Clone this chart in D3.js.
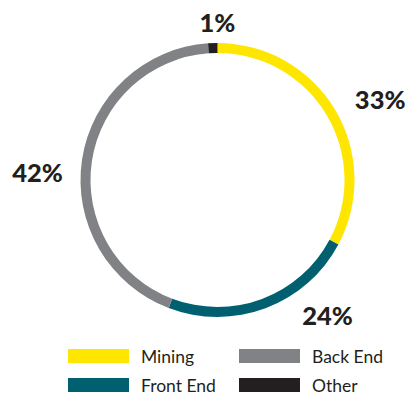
<!DOCTYPE html>
<html>
<head>
<meta charset="utf-8">
<script src="https://cdn.jsdelivr.net/npm/d3@7"></script>
<style>
  body { margin: 0; background: #fff; }
  text { font-family: Lato, "Open Sans", sans-serif; fill: #231f20; }
</style>
</head>
<body>
<div id="chart"></div>
<script>
// data
const categories = ["Mining", "Front End", "Back End", "Other"]
const values = [32.8, 23, 43.1, 1.1]
const labels = ["33%", "24%", "42%", "1%"]
const colors = ["#ffe600", "#00606f", "#808285", "#231f20"]

// label placement (degrees clockwise from 12 o'clock, distance from centre)
const labelAngle = [64, 141, 272, 0]
const labelRadius = [181, 175, 180, 157]

const W = 407, H = 396
const cx = 217.5, cy = 180
const outerR = 137, innerR = 127

const svg = d3.select('#chart').append('svg')
    .attr('width', W)
    .attr('height', H)

const g = svg.append('g')
    .attr('transform', `translate(${cx},${cy})`)

const pie = d3.pie().sort(null).value(d => d)
const arc = d3.arc().innerRadius(innerR).outerRadius(outerR)

g.selectAll('path')
    .data(pie(values))
    .join('path')
    .attr('d', arc)
    .attr('fill', (d, i) => colors[i])

// percentage labels
g.selectAll('text.pct')
    .data(labels)
    .join('text')
    .attr('class', 'pct')
    .attr('text-anchor', 'middle')
    .attr('x', (d, i) => labelRadius[i] * Math.sin(labelAngle[i] * Math.PI / 180))
    .attr('y', (d, i) => -labelRadius[i] * Math.cos(labelAngle[i] * Math.PI / 180) + 8.5)
    .style('font-size', '25.5px')
    .style('font-weight', 900)
    .text(d => d)

// legend: Mining, Front End in first column; Back End, Other in second
const legend = svg.append('g')
    .attr('transform', 'translate(68,349)')

const item = legend.selectAll('g')
    .data(categories)
    .join('g')
    .attr('transform', (d, i) => `translate(${Math.floor(i / 2) * 171},${(i % 2) * 29})`)

item.append('rect')
    .attr('width', 61)
    .attr('height', 14)
    .attr('fill', (d, i) => colors[i])

item.append('text')
    .attr('x', 73)
    .attr('y', 14)
    .style('font-size', '17.5px')
    .text(d => d)
</script>
</body>
</html>
